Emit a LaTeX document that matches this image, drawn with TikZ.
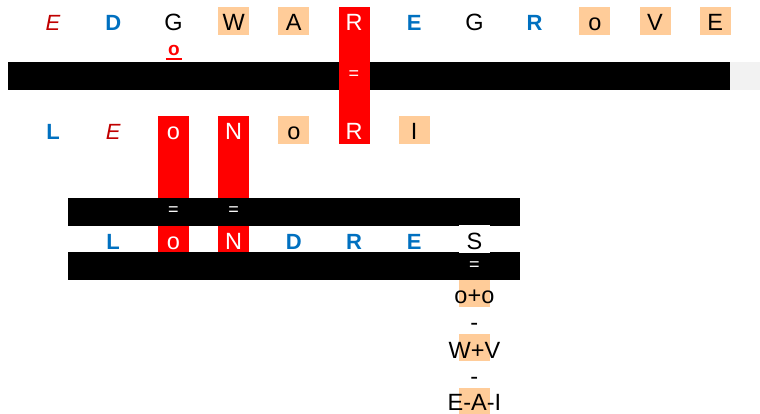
\documentclass[tikz,border=0pt]{standalone}
\usepackage{fontspec}
\setmainfont{Liberation Sans}
\usepackage{xcolor}
\usetikzlibrary{positioning}
\definecolor{wordblue}{HTML}{0070C0}
\definecolor{wordred}{HTML}{C00000}
\definecolor{tilered}{HTML}{FF0000}
\definecolor{tilepeach}{HTML}{FFCC99}
\definecolor{bargrey}{HTML}{F2F2F2}

\tikzset{
  plain/.style={font=\fontsize{23.5}{28}\selectfont,inner sep=0pt,
    minimum width=31pt,minimum height=28pt,text height=20pt,text depth=0pt},
  peach/.style={plain,fill=tilepeach},
  oncol/.style={plain,text=white},
  bluebold/.style={plain,font=\fontsize{22}{25}\selectfont\bfseries,text=wordblue},
  reditalic/.style={plain,font=\fontsize{22}{25}\selectfont\itshape,text=wordred},
  eqmark/.style={font=\fontsize{18}{20}\selectfont,text=white,inner sep=0pt},
  sumtext/.style={font=\fontsize{23.5}{28}\selectfont,inner sep=0pt,anchor=base,text depth=0pt},
}

\begin{document}
\begin{tikzpicture}[x=1pt,y=-1pt]
  \useasboundingbox (0,0) rectangle (760,414);

  \fill[black] (8,62) rectangle (730,90);
  \fill[bargrey] (730,62) rectangle (760,90);
  \fill[tilered] (338.5,7) rectangle (369.5,144);
  \fill[tilered] (157.9,116) rectangle (188.9,253);
  \fill[tilered] (218.1,116) rectangle (249.1,253);
  \fill[black] (68,198) rectangle (520,226);
  \fill[black] (68,252) rectangle (520,280);

  \foreach \ch/\sty [count=\i from 0] in {E/reditalic,D/bluebold,G/plain,W/peach,A/peach,R/oncol,
      E/bluebold,G/plain,R/bluebold,o/peach,V/peach,E/peach}
    \node[\sty] (top\i) at ({53+60.2*\i},21) {\ch};

  \foreach \ch/\sty [count=\i from 0] in {L/bluebold,E/reditalic,o/oncol,N/oncol,o/peach,R/oncol,I/peach}
    \node[\sty] (mid\i) at ({53+60.2*\i},130) {\ch};

  \foreach \ch/\sty [count=\i from 1] in {L/bluebold,o/oncol,N/oncol,D/bluebold,R/bluebold,E/bluebold}
    \node[\sty] (low\i) at ({53+60.2*\i},239) {\ch};
  \node[plain,fill=white] (low7) at (474.4,239) {S};

  \node[font=\fontsize{19}{22}\selectfont\bfseries,text=tilered,inner sep=0pt] (uo) at (174,50) {o};
  \draw[tilered,line width=1.3pt] ([xshift=-2pt,yshift=-3.5pt]uo.south west) -- ([xshift=2pt,yshift=-3.5pt]uo.south east);

  \node[eqmark] (eqR) at (354,75.5) {=};
  \node[eqmark] (eqo) at (173.4,211.5) {=};
  \node[eqmark] (eqN) at (233.6,211.5) {=};
  \node[eqmark] (eqS) at (474.4,266) {=};

  \fill[tilepeach] (458.9,280) rectangle (489.9,307);
  \node[sumtext] (sum1) at (474.4,303) {o+o};
  \node[sumtext] (minus1) at (474.4,330) {-};
  \fill[tilepeach] (458.9,334) rectangle (489.9,361);
  \node[sumtext] (sum2) at (474.4,358) {W+V};
  \node[sumtext] (minus2) at (474.4,384) {-};
  \fill[tilepeach] (458.9,388) rectangle (489.9,414);
  \node[sumtext] (sum3) at (474.4,410) {E-A-I};
\end{tikzpicture}
\end{document}
